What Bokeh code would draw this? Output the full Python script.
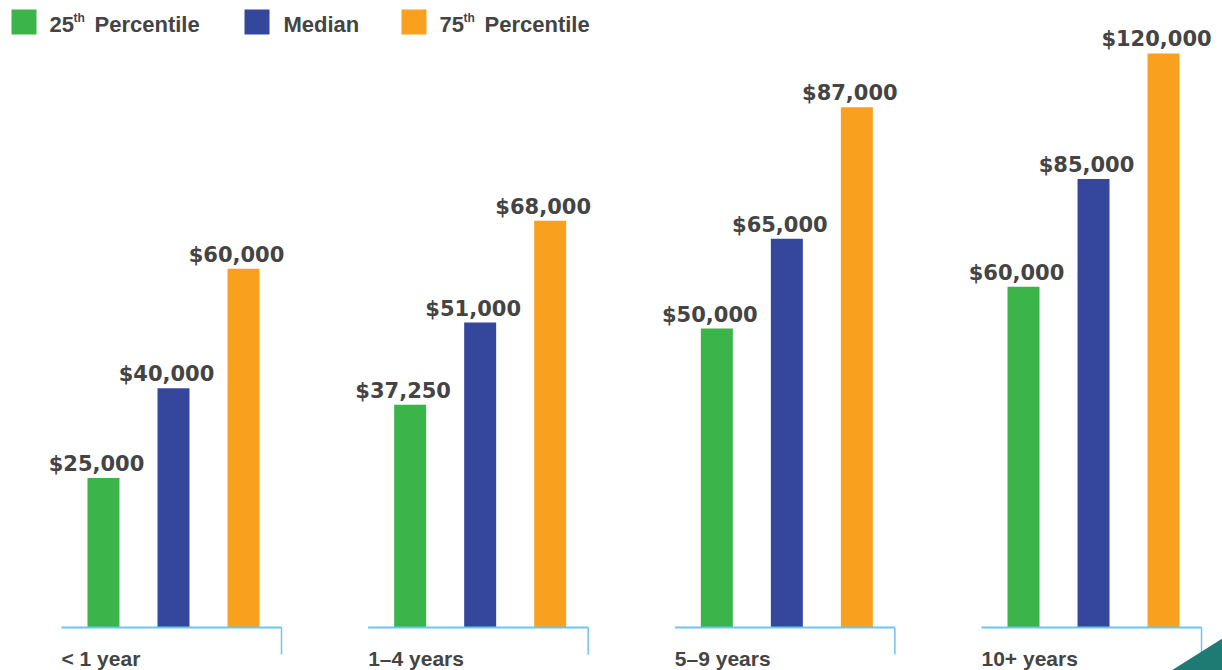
from bokeh.plotting import figure
from bokeh.models import ColumnDataSource, Label, BoxAnnotation, PolyAnnotation, Range1d
from bokeh.transform import dodge
from bokeh.core.properties import value
from bokeh.embed import file_html
from bokeh.resources import INLINE

# ---------------- data ----------------
categories = ["< 1 year", "1\u20134 years", "5\u20139 years", "10+ years"]
p25 = [25000, 37250, 50000, 60000]
median = [40000, 51000, 65000, 85000]
p75 = [60000, 68000, 87000, 120000]
# bar heights as drawn in the reference (the 10+ group is drawn shortened)
p25_drawn = [25000, 37250, 50000, 57000]
median_drawn = [40000, 51000, 65000, 75000]
p75_drawn = [60000, 68000, 87000, 96000]
series_names = ["25", "Median", "75"]

# ---------------- style ----------------
GREEN = "#3BB44A"
BLUE = "#35479C"
ORANGE = "#F9A11E"
TEXT = "#444444"
RULE = "#6DC5EB"
TEAL = "#1E7B74"
W, H = 1222, 670
PX_PER_UNIT = 0.00598  # pixels per dollar
BASE_FROM_TOP = 627
Y0 = -(H - BASE_FROM_TOP) / PX_PER_UNIT
Y1 = BASE_FROM_TOP / PX_PER_UNIT
GROUP_PX = 306.67
FIRST_CENTER = 173
OFF = 0.2283
BAR_W = 0.1043
RULE_L, RULE_R = -0.3652, 0.3522
TICK_DROP = -27 / PX_PER_UNIT

src = ColumnDataSource(dict(
    x=list(range(len(categories))), cat=categories,
    p25=p25_drawn, med=median_drawn, p75=p75_drawn,
    p25_lbl=[f"${v:,}" for v in p25],
    med_lbl=[f"${v:,}" for v in median],
    p75_lbl=[f"${v:,}" for v in p75],
    zero=[0] * len(categories), drop=[TICK_DROP] * len(categories),
))

p = figure(width=W, height=H, output_backend="svg", toolbar_location=None,
           x_range=Range1d(-FIRST_CENTER / GROUP_PX, (W - FIRST_CENTER) / GROUP_PX),
           y_range=Range1d(Y0, Y1),
           x_axis_location=None, y_axis_location=None,
           min_border=0, outline_line_color=None, background_fill_color="white",
           border_fill_color="white")
p.grid.visible = False

for off, col, top, lbl in [(-OFF, GREEN, "p25", "p25_lbl"),
                           (0, BLUE, "med", "med_lbl"),
                           (OFF, ORANGE, "p75", "p75_lbl")]:
    p.vbar(x=dodge("x", off, range=p.x_range), top=top, bottom=0, width=BAR_W,
           source=src, fill_color=col, line_color=None)
    p.text(x=dodge("x", off, range=p.x_range), y=top, text=lbl, source=src,
           x_offset=-7, y_offset=-14, text_align="center", text_baseline="alphabetic",
           text_font=value("DejaVu Sans"), text_font_style="bold",
           text_font_size="21px", text_color=TEXT)

# baseline rules with a drop tick at the right end
p.segment(x0=dodge("x", RULE_L, range=p.x_range), y0="zero",
          x1=dodge("x", RULE_R, range=p.x_range), y1="zero",
          source=src, line_color=RULE, line_width=2)
p.segment(x0=dodge("x", RULE_R, range=p.x_range), y0="zero",
          x1=dodge("x", RULE_R, range=p.x_range), y1="drop",
          source=src, line_color=RULE, line_width=1.5)

# category labels
p.text(x=dodge("x", RULE_L, range=p.x_range), y="zero", text="cat", source=src,
       y_offset=31, text_align="left", text_baseline="alphabetic",
       text_font=value("Liberation Sans"), text_font_style="bold",
       text_font_size="21px", text_color=TEXT)

# ---------------- legend ----------------
def box(left, color):
    p.add_layout(BoxAnnotation(left=left, right=left + 25, bottom=H - 34, top=H - 9,
                               left_units="screen", right_units="screen",
                               bottom_units="screen", top_units="screen",
                               fill_color=color, fill_alpha=1, line_color=None,
                               line_alpha=0))

def lab(x, y_from_top, text, size="22px"):
    p.add_layout(Label(x=x, y=H - y_from_top, x_units="screen", y_units="screen",
                       text=text, text_font="Liberation Sans", text_font_style="bold",
                       text_font_size=size, text_color=TEXT,
                       text_baseline="alphabetic", text_align="left"))

box(11, GREEN)
lab(49, 24, series_names[0])
lab(73, 17, "th", "12px")
lab(94, 24, "Percentile")
box(244, BLUE)
lab(283, 24, series_names[1])
box(401, ORANGE)
lab(439, 24, series_names[2])
lab(463, 17, "th", "12px")
lab(484, 24, "Percentile")

# teal corner triangle
p.add_layout(PolyAnnotation(xs=[1171, W, W], ys=[0, 32, 0],
                            xs_units="screen", ys_units="screen",
                            fill_color=TEAL, fill_alpha=1, line_color=None))

open("out.html", "w").write(file_html(p, INLINE))
